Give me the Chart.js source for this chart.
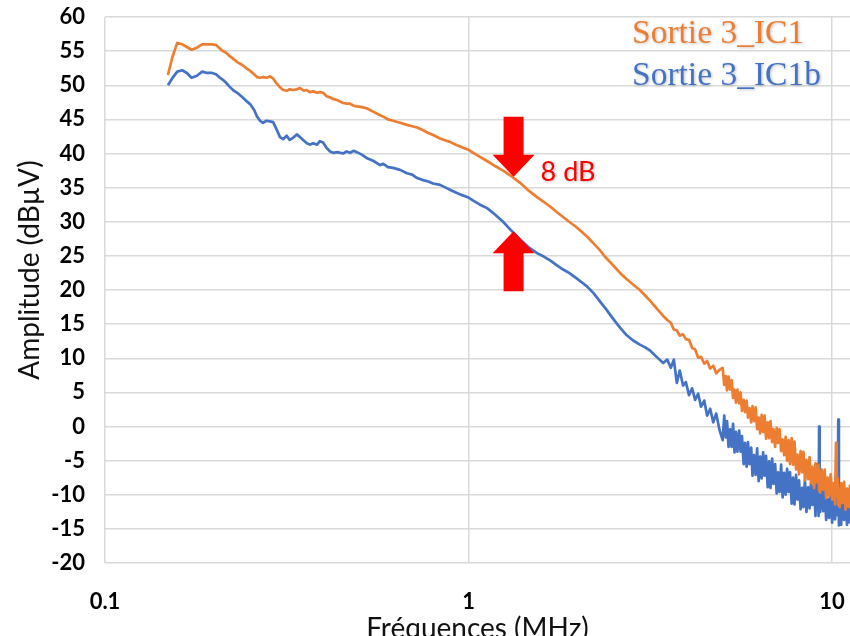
<!DOCTYPE html>
<html>
<head>
<meta charset="utf-8">
<script src="https://cdn.jsdelivr.net/npm/chart.js@4.4.1/dist/chart.umd.min.js"></script>
<style>
	html, body { margin: 0; padding: 0; background: #fff; }
	#wrap { width: 850px; height: 636px; }
</style>
</head>
<body>
<div id="wrap"><canvas id="spectre" width="850" height="636"></canvas></div>
<script>
// Spectre de sortie 3 : IC1 vs IC1b (dBµV en fonction de la fréquence, MHz)

// bande 0.15 - 3.5 MHz
var freqBasse = [
	0.149, 0.153, 0.158, 0.163, 0.168, 0.173, 0.179, 0.185, 0.191, 0.197,
	0.202, 0.207, 0.211, 0.215, 0.220, 0.225, 0.231, 0.238, 0.246, 0.251,
	0.257, 0.262, 0.267, 0.272, 0.278, 0.284, 0.290, 0.296, 0.303, 0.309,
	0.316, 0.322, 0.329, 0.337, 0.344, 0.352, 0.359, 0.366, 0.374, 0.383,
	0.390, 0.398, 0.407, 0.416, 0.424, 0.436, 0.452, 0.462, 0.472, 0.483,
	0.493, 0.510, 0.526, 0.548, 0.571, 0.583, 0.600, 0.620, 0.648, 0.677,
	0.700, 0.722, 0.750, 0.775, 0.799, 0.835, 0.865, 0.889, 0.929, 0.960,
	0.995, 1.03, 1.075, 1.124, 1.18, 1.244, 1.317, 1.386, 1.46, 1.543,
	1.61, 1.68, 1.75, 1.82, 1.89, 1.97, 2.04, 2.12, 2.21, 2.30,
	2.38, 2.45, 2.53, 2.61, 2.72, 2.835, 2.96, 3.06, 3.16, 3.29,
	3.43, 3.52
];
var ic1Basse = [
	51.5, 54.0, 56.2, 56.0, 55.6, 55.2, 55.5, 56.0, 56.0, 56.0,
	55.9, 55.4, 55.0, 54.8, 54.3, 53.9, 53.4, 53.0, 52.4, 52.1,
	51.6, 51.2, 51.1, 51.2, 51.1, 51.3, 51.0, 50.3, 49.7, 49.3,
	49.2, 49.4, 49.3, 49.4, 49.6, 49.2, 49.3, 49.0, 49.1, 48.9,
	49.0, 48.9, 48.4, 48.2, 48.0, 47.8, 47.4, 47.3, 47.3, 47.0,
	46.9, 46.8, 46.6, 46.1, 45.6, 45.4, 45.0, 44.8, 44.5, 44.2,
	44.0, 43.8, 43.4, 43.0, 42.7, 42.2, 41.9, 41.7, 41.2, 40.9,
	40.6, 40.1, 39.5, 38.9, 38.2, 37.5, 36.6, 35.7, 34.6, 33.6,
	32.9, 32.2, 31.4, 30.7, 30.0, 29.3, 28.6, 27.8, 26.8, 25.8,
	24.8, 24.1, 23.3, 22.5, 21.6, 20.8, 20.0, 19.2, 18.4, 17.3,
	16.2, 15.6
];
var ic1bBasse = [
	50.0, 51.0, 52.0, 52.2, 51.8, 51.1, 51.4, 52.0, 51.8, 51.8,
	51.6, 51.1, 50.8, 50.4, 49.8, 49.3, 48.9, 48.3, 47.6, 47.2,
	46.4, 45.4, 44.8, 44.5, 44.8, 44.7, 44.6, 43.6, 42.4, 42.1,
	42.6, 42.0, 42.3, 42.8, 42.4, 41.9, 41.5, 41.3, 41.5, 41.3,
	41.8, 41.6, 40.8, 40.3, 40.1, 40.2, 40.0, 40.3, 40.1, 40.4,
	40.2, 39.8, 39.3, 38.9, 38.3, 38.5, 38.0, 37.9, 37.6, 37.1,
	36.9, 36.4, 36.1, 35.9, 35.6, 35.4, 35.0, 34.7, 34.2, 33.9,
	33.6, 33.1, 32.5, 32.0, 31.1, 30.0, 28.6, 27.4, 26.3, 25.4,
	24.9, 24.3, 23.6, 23.0, 22.5, 21.8, 21.2, 20.5, 19.5, 18.3,
	17.3, 16.4, 15.4, 14.5, 13.4, 12.6, 12.0, 11.6, 11.1, 10.2,
	9.3, 9.8
];

// bande 3.6 - 11.2 MHz (plancher de bruit)
var freqHaute = [
	3.60, 3.67, 3.74, 3.81, 3.89, 3.96, 4.04, 4.12, 4.20, 4.28,
	4.36, 4.45, 4.53, 4.62, 4.71, 4.80, 4.90, 5.00, 5.05, 5.10,
	5.14, 5.19, 5.24, 5.29, 5.34, 5.39, 5.44, 5.49, 5.55, 5.60,
	5.65, 5.71, 5.76, 5.82, 5.87, 5.93, 5.99, 6.04, 6.10, 6.16,
	6.22, 6.28, 6.34, 6.40, 6.46, 6.52, 6.58, 6.65, 6.71, 6.77,
	6.84, 6.90, 6.97, 7.04, 7.10, 7.17, 7.24, 7.31, 7.38, 7.45,
	7.52, 7.59, 7.66, 7.74, 7.81, 7.88, 7.96, 8.03, 8.11, 8.19,
	8.27, 8.34, 8.42, 8.50, 8.59, 8.67, 8.75, 8.83, 8.92, 9.00,
	9.09, 9.18, 9.21, 9.24, 9.27, 9.36, 9.45, 9.54, 9.63, 9.72,
	9.81, 9.91, 10.00, 10.10, 10.19, 10.25, 10.29, 10.36, 10.40, 10.44,
	10.49, 10.59, 10.69, 10.79, 10.89, 10.99, 11.10, 11.2
];
var ic1Haute = [
	15.2, 14.2, 14.1, 13.3, 13.5, 12.8, 12.7, 11.5, 11.3, 10.1,
	10.2, 9.2, 9.6, 8.5, 8.9, 7.8, 8.3, 8.6, 6.1, 7.4,
	5.3, 7.3, 5.4, 6.8, 4.2, 5.4, 3.5, 5.4, 3.4, 5.0,
	2.3, 3.9, 2.1, 3.8, 1.3, 2.7, 0.6, 3.0, 0.8, 2.8,
	-0.4, 1.3, -1.0, 1.7, -0.8, 1.6, -1.8, 0.6, -1.7, 0.8,
	-2.3, -0.4, -3.0, -0.2, -2.4, -0.4, -3.6, -1.9, -4.2, -1.5,
	-5.0, -2.0, -5.5, -1.7, -5.6, -2.2, -6.3, -4.1, -7.0, -3.6,
	-6.7, -3.7, -7.9, -4.9, -7.7, -4.5, -8.3, -5.9, -9.0, -5.4,
	-8.2, -5.6, -9.4, -7.1, -9.7, -6.3, -9.3, -6.3, -10.5, -7.5,
	-10.2, -7.0, -10.7, -8.3, -11.4, -2.4, -10.3, -7.6, -11.5, -9.1,
	-11.8, -8.3, -11.2, -8.1, -12.2, -9.1, -11.8, -8.5
];
var ic1bHaute = [
	8.6, 9.8, 6.4, 8.2, 6.0, 6.5, 4.6, 5.6, 3.9, 4.8,
	2.9, 3.8, 1.6, 2.6, 0.6, 1.9, -0.5, -2.0, 1.6, -1.6,
	0.8, -3.0, -0.4, -3.0, 0.4, -3.8, -0.8, -3.7, -0.6, -3.7,
	-1.4, -5.5, -2.4, -5.9, -2.3, -5.5, -3.1, -7.2, -4.2, -7.1,
	-3.2, -8.0, -4.4, -7.6, -3.8, -7.2, -4.3, -8.9, -5.1, -9.0,
	-4.7, -8.4, -5.5, -9.8, -6.7, -9.6, -5.6, -10.4, -6.8, -10.0,
	-6.2, -9.6, -6.7, -11.3, -7.5, -11.4, -7.1, -10.7, -7.9, -12.1,
	-9.0, -11.8, -7.8, -12.5, -8.9, -12.0, -8.2, -11.5, -8.6, -13.1,
	-5.5, -13.1, 0.0, -10.0, -12.5, -8.8, -12.4, -9.5, -13.7, -10.6,
	-13.4, -9.4, -14.1, -10.5, -13.6, -9.7, -13.0, -10.0, 1.0, -14.5,
	-10.6, -14.4, -10.1, -13.7, -10.8, -14.4, -11.9, -14.2
];

var xTicks = [0.1, 1, 10];
var seriesNames = ["Sortie 3_IC1", "Sortie 3_IC1b"];
var seriesColors = ["#ED7D31", "#4472C4"];

// Flèches « 8 dB » entre les deux courbes
var ecartFreq = 1.33;
var ecartHaut = 36.6;
var ecartDb = 8;

var freqMHz = freqBasse.concat(freqHaute);
var sortieIC1 = ic1Basse.concat(ic1Haute);
var sortieIC1b = ic1bBasse.concat(ic1bHaute);

function toPoints(ys) {
	return freqMHz.map(function (f, i) {
		return { x: f, y: ys[i] };
	});
}

var tickFont = { family: "Lato", size: 22, weight: "bold" };

var annotations = {
	id: "annotations",
	afterDatasetsDraw: function (chart) {
		var ctx = chart.ctx;
		var xs = chart.scales.x;
		var ys = chart.scales.y;

		// flèches rouges
		var ax = xs.getPixelForValue(ecartFreq);
		var topTip = ys.getPixelForValue(ecartHaut);
		var botTip = ys.getPixelForValue(ecartHaut - ecartDb);
		var headH = 22, headW = 21, shaftW = 10, len = 60;

		ctx.save();
		ctx.fillStyle = "#FF0000";
		ctx.beginPath();
		ctx.moveTo(ax, topTip);
		ctx.lineTo(ax - headW, topTip - headH);
		ctx.lineTo(ax - shaftW, topTip - headH);
		ctx.lineTo(ax - shaftW, topTip - len);
		ctx.lineTo(ax + shaftW, topTip - len);
		ctx.lineTo(ax + shaftW, topTip - headH);
		ctx.lineTo(ax + headW, topTip - headH);
		ctx.closePath();
		ctx.fill();

		ctx.beginPath();
		ctx.moveTo(ax, botTip);
		ctx.lineTo(ax - headW, botTip + headH);
		ctx.lineTo(ax - shaftW, botTip + headH);
		ctx.lineTo(ax - shaftW, botTip + len);
		ctx.lineTo(ax + shaftW, botTip + len);
		ctx.lineTo(ax + shaftW, botTip + headH);
		ctx.lineTo(ax + headW, botTip + headH);
		ctx.closePath();
		ctx.fill();

		ctx.shadowColor = "rgba(0,0,0,0.25)";
		ctx.shadowBlur = 3;
		ctx.shadowOffsetX = 1;
		ctx.shadowOffsetY = 1;
		ctx.font = "27px Lato";
		ctx.textBaseline = "middle";
		ctx.textAlign = "left";
		ctx.fillText(ecartDb + " dB", ax + 27, topTip - 4);

		// légende
		ctx.font = "33.5px 'Liberation Serif'";
		ctx.textBaseline = "alphabetic";
		ctx.fillStyle = seriesColors[0];
		ctx.fillText(seriesNames[0], 632, 43);
		ctx.fillStyle = seriesColors[1];
		ctx.fillText(seriesNames[1], 632, 85);
		ctx.restore();

		// titres des axes
		var area = chart.chartArea;
		ctx.save();
		ctx.fillStyle = "#111";
		ctx.font = "28px Lato";
		ctx.textAlign = "center";
		ctx.textBaseline = "alphabetic";
		ctx.fillText("Fréquences (MHz)", (area.left + area.right) / 2, 638);
		ctx.translate(30, 270);
		ctx.rotate(-Math.PI / 2);
		ctx.textBaseline = "middle";
		ctx.fillText("Amplitude (dBµV)", 0, 0);
		ctx.restore();
	},
};

new Chart(document.getElementById("spectre"), {
	type: "line",
	data: {
		datasets: [
			{
				label: seriesNames[0],
				data: toPoints(sortieIC1),
				borderColor: seriesColors[0],
				borderWidth: 2.7,
				pointRadius: 0,
				tension: 0,
				borderJoinStyle: "round",
			},
			{
				label: seriesNames[1],
				data: toPoints(sortieIC1b),
				borderColor: seriesColors[1],
				borderWidth: 2.7,
				pointRadius: 0,
				tension: 0,
				borderJoinStyle: "round",
			},
		],
	},
	options: {
		responsive: false,
		animation: false,
		layout: { padding: { top: 17, left: 0, right: 0, bottom: 0 } },
		plugins: {
			legend: { display: false },
			tooltip: { enabled: false },
		},
		scales: {
			x: {
				type: "logarithmic",
				min: 0.1,
				max: 11.2,
				afterBuildTicks: function (scale) {
					scale.ticks = xTicks.map(function (v) {
						return { value: v };
					});
				},
				afterFit: function (scale) {
					scale.height = 73;
					scale.paddingLeft = 0;
					scale.paddingRight = 0;
				},
				grid: { color: "#d9d9d9", lineWidth: 1.5, drawTicks: false },
				border: { display: false },
				ticks: {
					padding: 26,
					color: "#000",
					font: tickFont,
					autoSkip: false,
					maxRotation: 0,
					callback: function (v) {
						return String(v);
					},
				},
			},
			y: {
				min: -20,
				max: 60,
				afterFit: function (scale) {
					scale.width = 105;
					scale.paddingTop = 0;
					scale.paddingBottom = 0;
				},
				grid: { color: "#d9d9d9", lineWidth: 1.5, drawTicks: false },
				border: { display: false },
				ticks: {
					stepSize: 5,
					padding: 20,
					color: "#000",
					font: tickFont,
					autoSkip: false,
				},
			},
		},
	},
	plugins: [annotations],
});
</script>
</body>
</html>
